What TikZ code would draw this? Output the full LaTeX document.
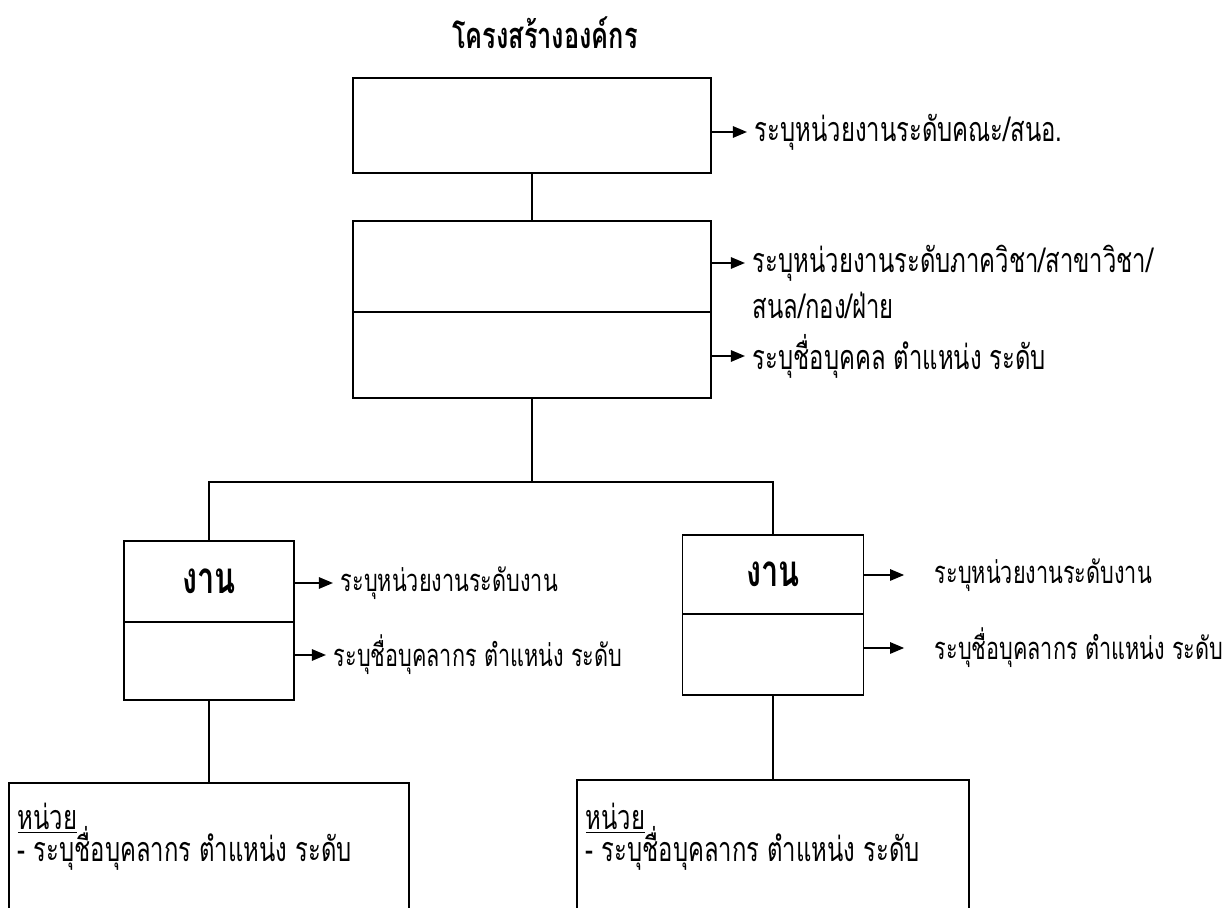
\documentclass[tikz,border=0pt]{standalone}
\usepackage{fontspec}
\setmainfont{Loma}[Script=Thai, FakeStretch=0.7]
\usetikzlibrary{arrows.meta}

\tikzset{
  box/.style={draw, inner sep=0pt},
  arr/.style={-{Triangle[length=8pt,width=6.5pt]}, shorten >=4pt},
  lbl/.style={anchor=west, inner sep=0pt},
  big/.style={font=\fontsize{19.4}{22}\selectfont},
  small/.style={font=\fontsize{17.6}{20}\selectfont},
  unit/.style={font=\fontsize{19.4}{22}\selectfont},
  work/.style={font=\bfseries\fontsize{25}{28}\selectfont}
}

\begin{document}
\begin{tikzpicture}[x=0.02cm, y=-0.02cm, line width=0.9pt]
\useasboundingbox (0,0) rectangle (1232,908);
\clip (0,0) rectangle (1232,908);

\node[font=\bfseries\fontsize{20.6}{24}\selectfont] (title) at (545,33) {โครงสร้างองค์กร};

% faculty level
\node[box, minimum width=7.16cm, minimum height=1.9cm] (faculty) at (532,125.5) {};
\node[lbl, big] (facultylbl) at (754,132) {ระบุหน่วยงานระดับคณะ/สนอ.};
\draw[arr] (faculty.east |- facultylbl.west) -- (facultylbl.west);

% department level
\node[box, minimum width=7.16cm, minimum height=1.82cm] (depttop) at (532,266.5) {};
\node[box, minimum width=7.16cm, minimum height=1.72cm] (deptbot) at (532,355) {};
\node[lbl, big] (deptlbl) at (752,263) {ระบุหน่วยงานระดับภาควิชา/สาขาวิชา/};
\node[lbl, big] (deptlbltwo) at (752,305) {สนล/กอง/ฝ่าย};
\node[lbl, big] (headlbl) at (752,356) {ระบุชื่อบุคคล ตำแหน่ง ระดับ};
\draw[arr] (depttop.east |- deptlbl.west) -- (deptlbl.west);
\draw[arr] (deptbot.east |- headlbl.west) -- (headlbl.west);
\draw (faculty.south) -- (depttop.north);

% work level
\coordinate (split) at (532,482);
\node[box, work, minimum width=3.4cm, minimum height=1.62cm] (worktopL) at (209,581.5) {งาน};
\node[box, minimum width=3.4cm, minimum height=1.56cm] (workbotL) at (209,661) {};
\node[box, work, minimum width=3.62cm, minimum height=1.58cm] (worktopR) at (773,574.5) {งาน};
\node[box, minimum width=3.62cm, minimum height=1.62cm] (workbotR) at (773,654.5) {};
\draw (deptbot.south) -- (split);
\draw (worktopL.north) |- (split) -| (worktopR.north);

\node[lbl, small] (worklblL) at (340,583) {ระบุหน่วยงานระดับงาน};
\node[lbl, small] (stafflblL) at (333,655) {ระบุชื่อบุคลากร ตำแหน่ง ระดับ};
\node[lbl, small] (worklblR) at (934,575) {ระบุหน่วยงานระดับงาน};
\node[lbl, small] (stafflblR) at (934,648) {ระบุชื่อบุคลากร ตำแหน่ง ระดับ};
\draw[arr] (worktopL.east |- worklblL.west) -- (worklblL.west);
\draw[arr] (workbotL.east |- stafflblL.west) -- (stafflblL.west);
\draw[arr, shorten >=17pt] (worktopR.east |- worklblR.west) -- (worklblR.west);
\draw[arr, shorten >=17pt] (workbotR.east |- stafflblR.west) -- (stafflblR.west);

% unit level (cut off at the bottom)
\node[box, minimum width=8cm, minimum height=3.54cm] (unitL) at (209,871.5) {};
\node[box, minimum width=7.84cm, minimum height=3.6cm] (unitR) at (773,870) {};
\draw (workbotL.south) -- (unitL.north);
\draw (workbotR.south) -- (unitR.north);
\node[lbl, unit] (unitheadL) at (17,818) {\underline{หน่วย}};
\node[lbl, unit] (unittextL) at (17,848) {- ระบุชื่อบุคลากร ตำแหน่ง ระดับ};
\node[lbl, unit] (unitheadR) at (585,818) {\underline{หน่วย}};
\node[lbl, unit] (unittextR) at (585,848) {- ระบุชื่อบุคลากร ตำแหน่ง ระดับ};
\end{tikzpicture}
\end{document}
